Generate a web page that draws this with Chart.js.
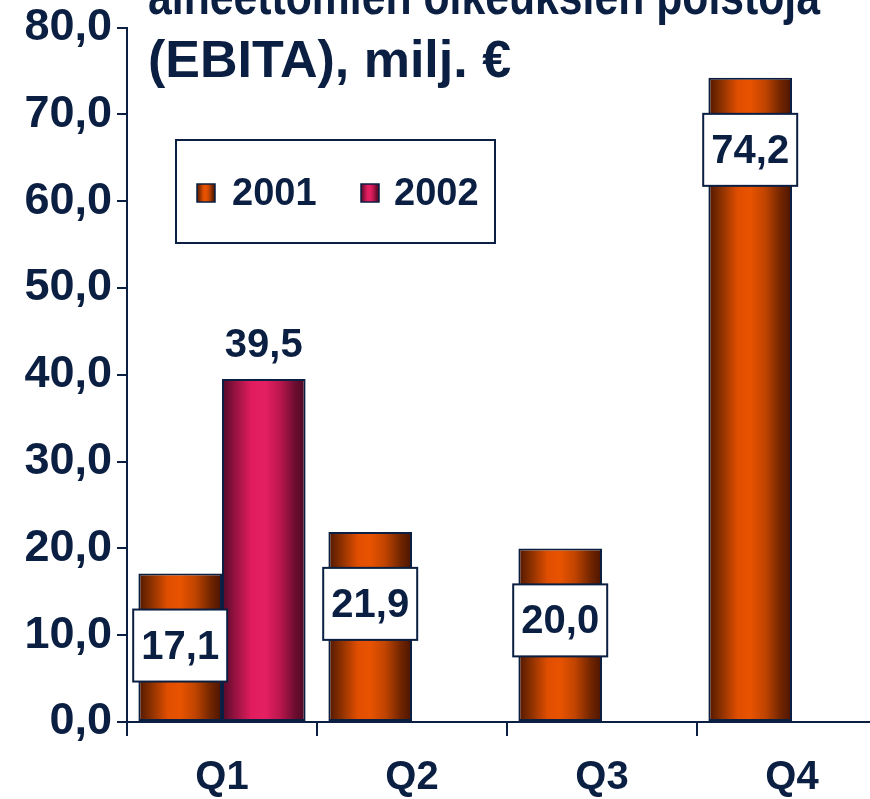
<!DOCTYPE html>
<html>
<head>
<meta charset="utf-8">
<script src="https://cdn.jsdelivr.net/npm/chart.js@4.4.0/dist/chart.umd.min.js"></script>
<style>
  html, body { margin: 0; padding: 0; background: #fff; overflow: hidden; }
  #wrap { width: 890px; height: 799px; position: relative; }
</style>
</head>
<body>
<div id="wrap"><canvas id="ebita-chart"></canvas></div>
<script>
var quarters = ["Q1", "Q2", "Q3", "Q4"];
var ebita2001 = [17.1, 21.9, 20.0, 74.2];
var ebita2002 = [39.5, null, null, null];
var yTicks = [0, 10, 20, 30, 40, 50, 60, 70, 80];
var seriesNames = ["2001", "2002"];
var titleLines = ["Liikevoitto ennen", "aineettomien oikeuksien poistoja", "(EBITA), milj. €"];

var navy = "#0b1f42";
var fontFamily = "'Liberation Sans', Arial, sans-serif";
Chart.defaults.font.family = fontFamily;

var orangeShades = [[0, "#4f1700"], [0.15, "#8a3000"], [0.35, "#e04e00"], [0.5, "#e85300"], [0.68, "#c04400"], [0.86, "#742600"], [1, "#4a1400"]];
var pinkShades = [[0, "#520a28"], [0.15, "#93123f"], [0.35, "#e01c5e"], [0.52, "#e51f63"], [0.7, "#b9164c"], [0.87, "#6e0d31"], [1, "#4c0822"]];

function fmt(v) { return v.toFixed(1).replace(".", ","); }

function makeGradient(ctx, left, right, shades) {
  var g = ctx.createLinearGradient(left, 0, right, 0);
  shades.forEach(function (s) { g.addColorStop(s[0], s[1]); });
  return g;
}

// horizontal "cylinder" shading for each bar
var gradientPlugin = {
  id: "barGradient",
  beforeDatasetsDraw: function (chart) {
    var ctx = chart.ctx;
    chart.data.datasets.forEach(function (ds, i) {
      chart.getDatasetMeta(i).data.forEach(function (bar) {
        var l = bar.x - bar.width / 2, r = bar.x + bar.width / 2;
        bar.options = Object.assign({}, bar.options, { backgroundColor: makeGradient(ctx, l, r, ds.shades) });
      });
    });
  }
};

var labelPlugin = {
  id: "valueLabels",
  afterDatasetsDraw: function (chart) {
    var ctx = chart.ctx;
    ctx.save();
    ctx.font = "bold 40px " + fontFamily;
    ctx.textAlign = "center";
    ctx.textBaseline = "middle";
    chart.data.datasets.forEach(function (ds, i) {
      chart.getDatasetMeta(i).data.forEach(function (bar, j) {
        var v = ds.data[j];
        if (v === null) return;
        if (i === 0) {
          var cy = bar.y + 72;
          ctx.fillStyle = "#fff";
          ctx.fillRect(bar.x - 47, cy - 36, 94, 72);
          ctx.strokeStyle = navy;
          ctx.lineWidth = 2;
          ctx.strokeRect(bar.x - 47, cy - 36, 94, 72);
          ctx.fillStyle = navy;
          ctx.fillText(fmt(v), bar.x, cy + 2);
        } else {
          ctx.fillStyle = navy;
          ctx.fillText(fmt(v), bar.x, bar.y - 33);
        }
      });
    });
    ctx.restore();
  }
};

var titleLegendPlugin = {
  id: "titleLegend",
  afterDraw: function (chart) {
    var ctx = chart.ctx;
    ctx.save();
    // title (top lines run off the top of the picture)
    ctx.fillStyle = navy;
    ctx.font = "bold 52px " + fontFamily;
    ctx.textAlign = "left";
    ctx.textBaseline = "alphabetic";
    titleLines.forEach(function (t, k) {
      var y = k === 2 ? 77 : 14 + (k - 1) * 65;
      if (k < 2) ctx.fillText(t, 148, y, 672);
      else ctx.fillText(t, 148, y);
    });
    // legend box
    ctx.fillStyle = "#fff";
    ctx.fillRect(176, 140, 319, 103);
    ctx.strokeStyle = navy;
    ctx.lineWidth = 2;
    ctx.strokeRect(176, 140, 319, 103);
    var items = [[197, 232, orangeShades], [361, 394, pinkShades]];
    ctx.font = "bold 38px " + fontFamily;
    ctx.textBaseline = "middle";
    items.forEach(function (it, k) {
      ctx.fillStyle = makeGradient(ctx, it[0], it[0] + 18, it[2]);
      ctx.fillRect(it[0], 184, 18, 18);
      ctx.strokeStyle = navy;
      ctx.lineWidth = 1.5;
      ctx.strokeRect(it[0], 184, 18, 18);
      ctx.fillStyle = navy;
      ctx.fillText(seriesNames[k], it[1], 195);
    });
    ctx.restore();
  }
};

new Chart(document.getElementById("ebita-chart"), {
  type: "bar",
  data: {
    labels: quarters,
    datasets: [
      {
        label: seriesNames[0],
        data: ebita2001,
        shades: orangeShades,
        backgroundColor: "#e04e00",
        borderColor: navy,
        borderWidth: 2,
        borderSkipped: false,
        categoryPercentage: 0.88,
        barPercentage: 1
      },
      {
        label: seriesNames[1],
        data: ebita2002,
        shades: pinkShades,
        backgroundColor: "#e01c5e",
        borderColor: navy,
        borderWidth: 2,
        borderSkipped: false,
        categoryPercentage: 0.88,
        barPercentage: 1
      }
    ]
  },
  options: {
    responsive: true,
    maintainAspectRatio: false,
    animation: false,
    layout: { padding: { top: 24, right: 3, left: 0, bottom: 0 } },
    plugins: {
      legend: { display: false },
      title: { display: false },
      tooltip: { enabled: false }
    },
    scales: {
      x: {
        offset: true,
        grid: { drawOnChartArea: false, tickLength: 14, color: navy, lineWidth: 2 },
        border: { color: navy, width: 2 },
        ticks: {
          color: navy,
          padding: 22,
          font: { size: 40, weight: "bold", lineHeight: 1 }
        },
        afterFit: function (s) { s.height = 77; }
      },
      y: {
        min: 0,
        max: 80,
        afterBuildTicks: function (s) {
          s.ticks = yTicks.map(function (v) { return { value: v }; });
        },
        grid: { drawOnChartArea: false, tickLength: 10, color: navy, lineWidth: 2 },
        border: { color: navy, width: 2 },
        ticks: {
          color: navy,
          padding: 5,
          font: { size: 45, weight: "bold", lineHeight: 1 },
          callback: function (v) { return fmt(v); }
        },
        afterFit: function (s) { s.width = 127; }
      }
    }
  },
  plugins: [gradientPlugin, labelPlugin, titleLegendPlugin]
});
</script>
</body>
</html>
